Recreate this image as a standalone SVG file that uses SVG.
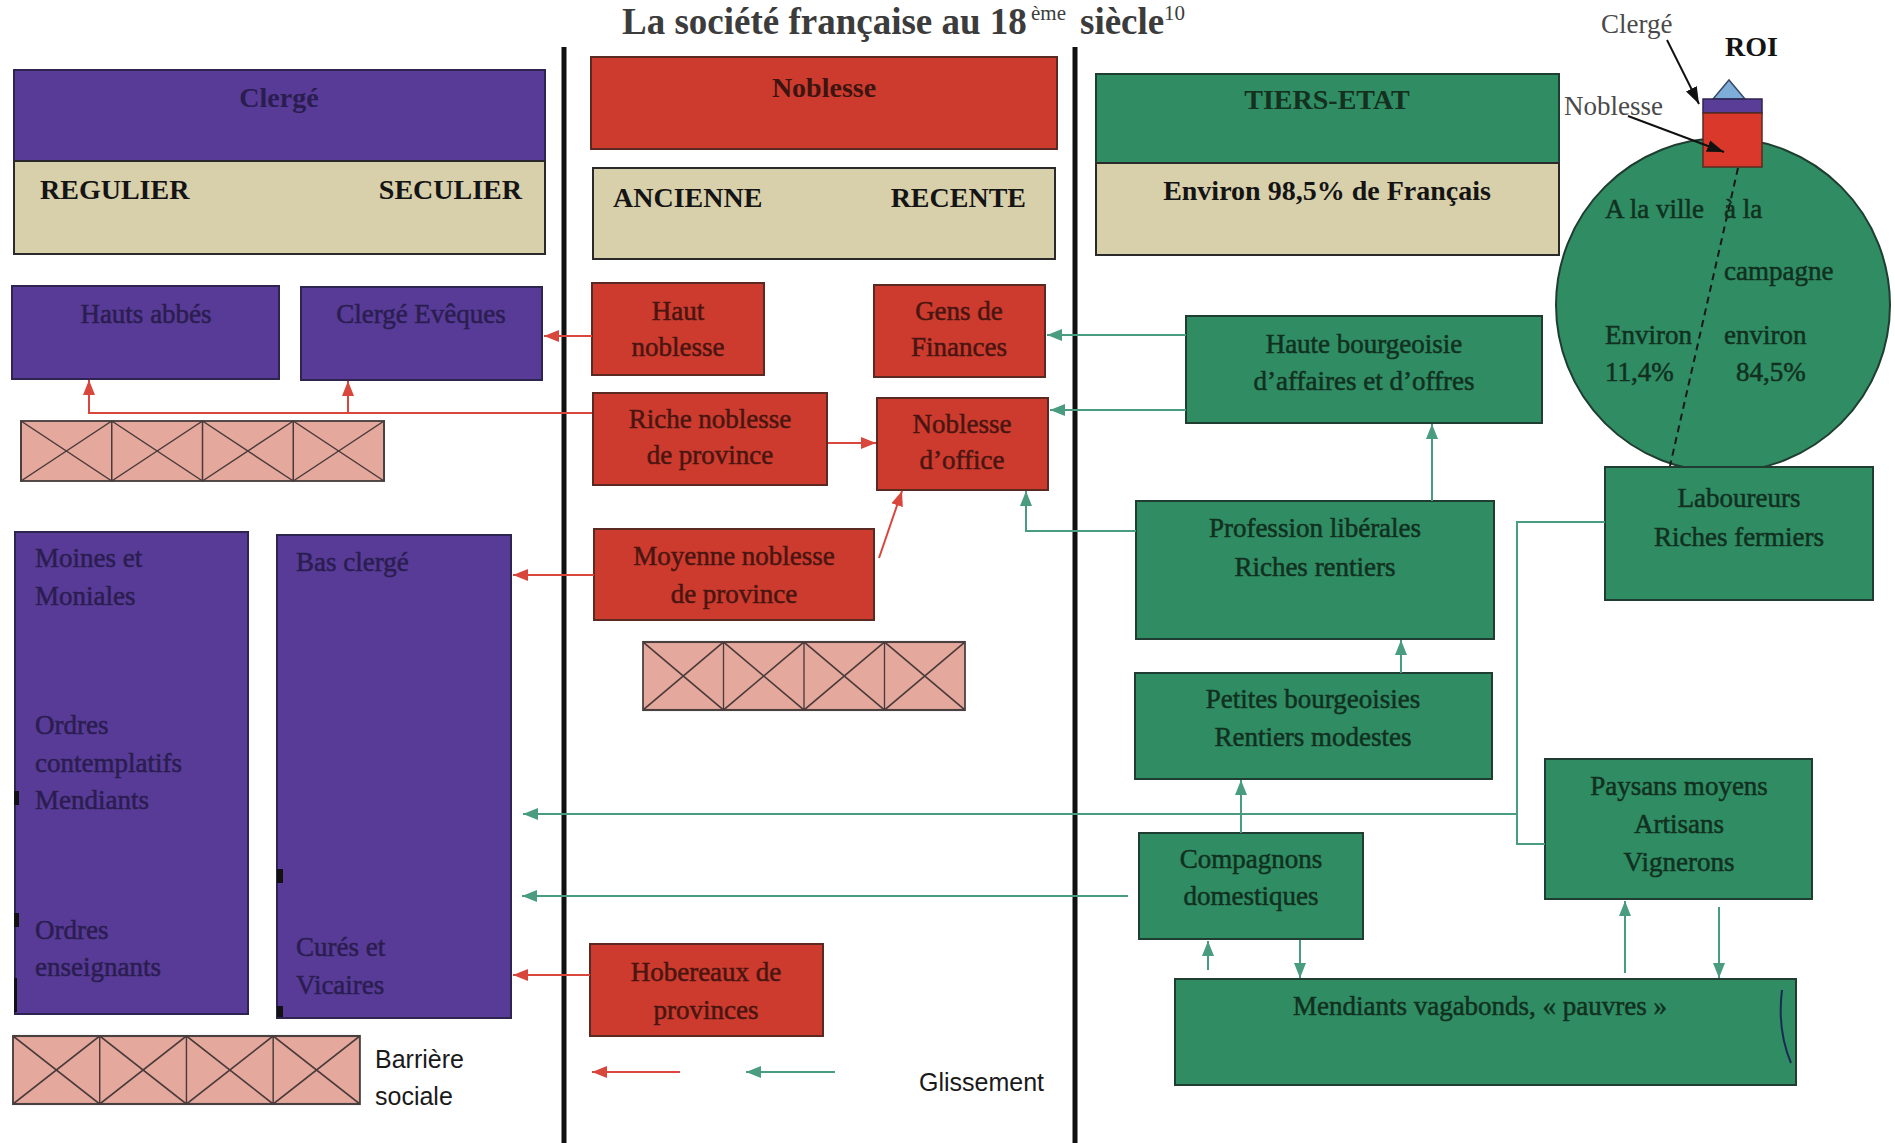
<svg xmlns="http://www.w3.org/2000/svg" width="1895" height="1143" viewBox="0 0 1895 1143">
<defs>
<style>
.pur{fill:#573b96;stroke:#2e2450;stroke-width:2}
.red{fill:#cc3b2e;stroke:#5a2a22;stroke-width:2}
.grn{fill:#2f8c63;stroke:#1f3d30;stroke-width:2}
.tan{fill:#d8cfab;stroke:#2a2a2a;stroke-width:2}
.pink{fill:#e4a89d;stroke:#4a4040;stroke-width:2}
.cross{stroke:#4a3a3a;stroke-width:1.5;fill:none}
.t{font-family:"Liberation Serif","Times New Roman",serif;font-size:27px;text-anchor:middle;stroke-width:0.5}
.tl{font-family:"Liberation Serif","Times New Roman",serif;font-size:27px;stroke-width:0.5}
.hb{font-family:"Liberation Serif","Times New Roman",serif;font-size:28px;font-weight:bold}
.tp{fill:#2b1d50;stroke:#2b1d50}
.tr{fill:#4a1510;stroke:#4a1510}
.tg{fill:#11301f;stroke:#11301f}
.tk{fill:#141414}
.sans{font-family:"Liberation Sans",Arial,sans-serif;font-size:25px;fill:#1a1a1a}
.rl{stroke:#d8463c;stroke-width:2;fill:none}
.gl{stroke:#4a9c80;stroke-width:2;fill:none}
.sep{stroke:#111;stroke-width:5}
</style>
<marker id="ar" markerUnits="userSpaceOnUse" markerWidth="16" markerHeight="14" refX="15" refY="7" orient="auto"><path d="M0,1 L15,7 L0,13 z" fill="#d8463c"/></marker>
<marker id="ag" markerUnits="userSpaceOnUse" markerWidth="16" markerHeight="14" refX="15" refY="7" orient="auto"><path d="M0,1 L15,7 L0,13 z" fill="#4a9c80"/></marker>
<marker id="ak" markerUnits="userSpaceOnUse" markerWidth="18" markerHeight="14" refX="17" refY="7" orient="auto"><path d="M0,1 L17,7 L0,13 z" fill="#111"/></marker>
<g id="barrier">
<rect class="pink" x="0" y="0" width="364" height="64"/>
<path class="cross" d="M91,0 V64 M182,0 V64 M273,0 V64 M0,0 L91,64 M91,0 L0,64 M91,0 L182,64 M182,0 L91,64 M182,0 L273,64 M273,0 L182,64 M273,0 L364,64 M364,0 L273,64"/>
</g>
</defs>
<rect width="1895" height="1143" fill="#ffffff"/>

<g id="title">
<text x="622" y="34" font-family="Liberation Serif,'Times New Roman',serif" font-weight="bold" font-size="37" fill="#3c3c3c">La société française au 18</text>
<text x="1031" y="20" font-family="Liberation Serif,'Times New Roman',serif" font-size="21" fill="#3c3c3c">ème</text>
<text x="1080" y="34" font-family="Liberation Serif,'Times New Roman',serif" font-weight="bold" font-size="37" fill="#3c3c3c">siècle</text>
<text x="1164" y="20" font-family="Liberation Serif,'Times New Roman',serif" font-size="21" fill="#3c3c3c">10</text>
</g>

<g id="separators">
<line class="sep" x1="564" y1="47" x2="564" y2="1143"/>
<line class="sep" x1="1075" y1="47" x2="1075" y2="1143"/>
</g>

<g id="clerge-header">
<rect class="pur" x="14" y="70" width="531" height="91"/>
<text class="hb" x="279" y="107" text-anchor="middle" fill="#2b1d50">Clergé</text>
<rect class="tan" x="14" y="161" width="531" height="93"/>
<text class="hb tk" x="40" y="199">REGULIER</text>
<text class="hb tk" x="522" y="199" text-anchor="end">SECULIER</text>
</g>
<g id="hauts-abbes">
<rect class="pur" x="12" y="286" width="267" height="93"/>
<text class="t tp" x="146" y="323">Hauts abbés</text>
</g>
<g id="clerge-eveques">
<rect class="pur" x="301" y="287" width="241" height="93"/>
<text class="t tp" x="421" y="323">Clergé Evêques</text>
</g>
<g id="barriere-clerge-1"><use href="#barrier" transform="translate(21,421) scale(0.9973,0.9375)"/></g>
<g id="moines">
<rect class="pur" x="15" y="532" width="233" height="482"/>
<text class="tl tp" x="35" y="567">Moines et</text>
<text class="tl tp" x="35" y="605">Moniales</text>
<text class="tl tp" x="35" y="734">Ordres</text>
<text class="tl tp" x="35" y="772">contemplatifs</text>
<text class="tl tp" x="35" y="809">Mendiants</text>
<text class="tl tp" x="35" y="939">Ordres</text>
<text class="tl tp" x="35" y="976">enseignants</text>
<rect x="14" y="791" width="5" height="14" fill="#111"/>
<rect x="14" y="913" width="5" height="14" fill="#111"/>
<rect x="14" y="978" width="3" height="34" fill="#111"/>
</g>
<g id="bas-clerge">
<rect class="pur" x="277" y="535" width="234" height="483"/>
<text class="tl tp" x="296" y="571">Bas clergé</text>
<text class="tl tp" x="296" y="956">Curés et</text>
<text class="tl tp" x="296" y="994">Vicaires</text>
<rect x="277" y="869" width="6" height="14" fill="#111"/>
<rect x="277" y="1006" width="6" height="11" fill="#111"/>
</g>
<g id="barriere-legende">
<use href="#barrier" transform="translate(13,1036) scale(0.953,1.0625)"/>
<text class="sans" x="375" y="1068">Barrière</text>
<text class="sans" x="375" y="1105">sociale</text>
</g>

<g id="noblesse-header">
<rect class="red" x="591" y="57" width="466" height="92"/>
<text class="hb" x="824" y="97" text-anchor="middle" fill="#3e1410">Noblesse</text>
</g>
<g id="noblesse-types">
<rect class="tan" x="593" y="168" width="462" height="91"/>
<text class="hb tk" x="613" y="207">ANCIENNE</text>
<text class="hb tk" x="1026" y="207" text-anchor="end">RECENTE</text>
</g>
<g id="haut-noblesse">
<rect class="red" x="592" y="283" width="172" height="92"/>
<text class="t tr" x="678" y="320">Haut</text>
<text class="t tr" x="678" y="356">noblesse</text>
</g>
<g id="gens-finances">
<rect class="red" x="874" y="285" width="171" height="92"/>
<text class="t tr" x="959" y="320">Gens de</text>
<text class="t tr" x="959" y="356">Finances</text>
</g>
<g id="riche-noblesse">
<rect class="red" x="593" y="393" width="234" height="92"/>
<text class="t tr" x="710" y="428">Riche noblesse</text>
<text class="t tr" x="710" y="464">de province</text>
</g>
<g id="noblesse-office">
<rect class="red" x="877" y="398" width="171" height="92"/>
<text class="t tr" x="962" y="433">Noblesse</text>
<text class="t tr" x="962" y="469">d’office</text>
</g>
<g id="moyenne-noblesse">
<rect class="red" x="594" y="529" width="280" height="91"/>
<text class="t tr" x="734" y="565">Moyenne noblesse</text>
<text class="t tr" x="734" y="603">de province</text>
</g>
<g id="barriere-noblesse"><use href="#barrier" transform="translate(643,642) scale(0.8846,1.0625)"/></g>
<g id="hobereaux">
<rect class="red" x="590" y="944" width="233" height="92"/>
<text class="t tr" x="706" y="981">Hobereaux de</text>
<text class="t tr" x="706" y="1019">provinces</text>
</g>
<g id="legende-glissement">
<text class="sans" x="919" y="1091">Glissement</text>
</g>

<g id="tiers-header">
<rect class="grn" x="1096" y="74" width="463" height="89"/>
<text class="hb" x="1327" y="109" text-anchor="middle" fill="#14301f">TIERS-ETAT</text>
<rect class="tan" x="1096" y="163" width="463" height="92"/>
<text class="hb tk" x="1327" y="200" text-anchor="middle">Environ 98,5% de Français</text>
</g>
<g id="haute-bourgeoisie">
<rect class="grn" x="1186" y="316" width="356" height="107"/>
<text class="t tg" x="1364" y="353">Haute bourgeoisie</text>
<text class="t tg" x="1364" y="390">d’affaires et d’offres</text>
</g>
<g id="profession-liberales">
<rect class="grn" x="1136" y="501" width="358" height="138"/>
<text class="t tg" x="1315" y="537">Profession libérales</text>
<text class="t tg" x="1315" y="576">Riches rentiers</text>
</g>
<g id="petites-bourgeoisies">
<rect class="grn" x="1135" y="673" width="357" height="106"/>
<text class="t tg" x="1313" y="708">Petites bourgeoisies</text>
<text class="t tg" x="1313" y="746">Rentiers modestes</text>
</g>
<g id="compagnons">
<rect class="grn" x="1139" y="833" width="224" height="106"/>
<text class="t tg" x="1251" y="868">Compagnons</text>
<text class="t tg" x="1251" y="905">domestiques</text>
</g>
<g id="mendiants">
<rect class="grn" x="1175" y="979" width="621" height="106"/>
<text class="t tg" x="1480" y="1015">Mendiants vagabonds, « pauvres »</text>
<path d="M1782,990 Q1777,1030 1791,1063" stroke="#1b2a55" stroke-width="2" fill="none"/>
</g>
<g id="paysans-moyens">
<rect class="grn" x="1545" y="759" width="267" height="140"/>
<text class="t tg" x="1679" y="795">Paysans moyens</text>
<text class="t tg" x="1679" y="833">Artisans</text>
<text class="t tg" x="1679" y="871">Vignerons</text>
</g>

<g id="population-circle">
<circle cx="1723" cy="305" r="167" fill="#2f8c63" stroke="#1f3d30" stroke-width="2"/>
<line x1="1738" y1="168" x2="1670" y2="466" stroke="#1a1a1a" stroke-width="2" stroke-dasharray="7,5"/>
<text class="tl tg" x="1605" y="218">A la ville</text>
<text class="tl tg" x="1724" y="218">à la</text>
<text class="tl tg" x="1724" y="280">campagne</text>
<text class="tl tg" x="1605" y="344">Environ</text>
<text class="tl tg" x="1724" y="344">environ</text>
<text class="tl tg" x="1605" y="381">11,4%</text>
<text class="tl tg" x="1736" y="381">84,5%</text>
</g>
<g id="laboureurs">
<rect class="grn" x="1605" y="467" width="268" height="133"/>
<text class="t tg" x="1739" y="507">Laboureurs</text>
<text class="t tg" x="1739" y="546">Riches fermiers</text>
</g>
<g id="roi">
<polygon points="1713,99 1729,80 1745,99" fill="#7eaed8" stroke="#3a4a6a" stroke-width="1.5"/>
<rect x="1703" y="99" width="59" height="14" fill="#5a3d96" stroke="#2e2450" stroke-width="1.5"/>
<rect x="1703" y="113" width="59" height="54" fill="#d9382b" stroke="#5a2a22" stroke-width="1.5"/>
<text class="hb tk" x="1725" y="56">ROI</text>
</g>
<g id="label-clerge">
<text class="tl" x="1601" y="33" fill="#4a4a4a">Clergé</text>
</g>
<g id="label-noblesse">
<text class="tl" x="1564" y="115" fill="#4a4a4a">Noblesse</text>
</g>

<g id="connectors">
<line class="rl" x1="592" y1="336" x2="544" y2="336" marker-end="url(#ar)"/>
<polyline class="rl" points="592,413 89,413 89,380" marker-end="url(#ar)"/>
<line class="rl" x1="348" y1="413" x2="348" y2="381" marker-end="url(#ar)"/>
<line class="rl" x1="594" y1="575" x2="513" y2="575" marker-end="url(#ar)"/>
<line class="rl" x1="590" y1="975" x2="513" y2="975" marker-end="url(#ar)"/>
<line class="rl" x1="828" y1="443" x2="876" y2="443" marker-end="url(#ar)"/>
<line class="rl" x1="879" y1="558" x2="902" y2="491" marker-end="url(#ar)"/>
<line class="rl" x1="680" y1="1072" x2="592" y2="1072" marker-end="url(#ar)"/>
<line class="gl" x1="1186" y1="335" x2="1047" y2="335" marker-end="url(#ag)"/>
<line class="gl" x1="1186" y1="410" x2="1050" y2="410" marker-end="url(#ag)"/>
<polyline class="gl" points="1136,531 1026,531 1026,491" marker-end="url(#ag)"/>
<line class="gl" x1="1432" y1="501" x2="1432" y2="424" marker-end="url(#ag)"/>
<line class="gl" x1="1401" y1="673" x2="1401" y2="640" marker-end="url(#ag)"/>
<line class="gl" x1="1241" y1="833" x2="1241" y2="780" marker-end="url(#ag)"/>
<polyline class="gl" points="1605,522 1517,522 1517,844 1545,844"/>
<line class="gl" x1="1517" y1="814" x2="523" y2="814" marker-end="url(#ag)"/>
<line class="gl" x1="1128" y1="896" x2="522" y2="896" marker-end="url(#ag)"/>
<line class="gl" x1="1208" y1="970" x2="1208" y2="941" marker-end="url(#ag)"/>
<line class="gl" x1="1300" y1="940" x2="1300" y2="978" marker-end="url(#ag)"/>
<line class="gl" x1="1625" y1="973" x2="1625" y2="901" marker-end="url(#ag)"/>
<line class="gl" x1="1719" y1="907" x2="1719" y2="978" marker-end="url(#ag)"/>
<line class="gl" x1="835" y1="1072" x2="746" y2="1072" marker-end="url(#ag)"/>
<line x1="1667" y1="40" x2="1699" y2="104" stroke="#111" stroke-width="2" marker-end="url(#ak)"/>
<line x1="1628" y1="116" x2="1724" y2="152" stroke="#111" stroke-width="2" marker-end="url(#ak)"/>
</g>
</svg>
